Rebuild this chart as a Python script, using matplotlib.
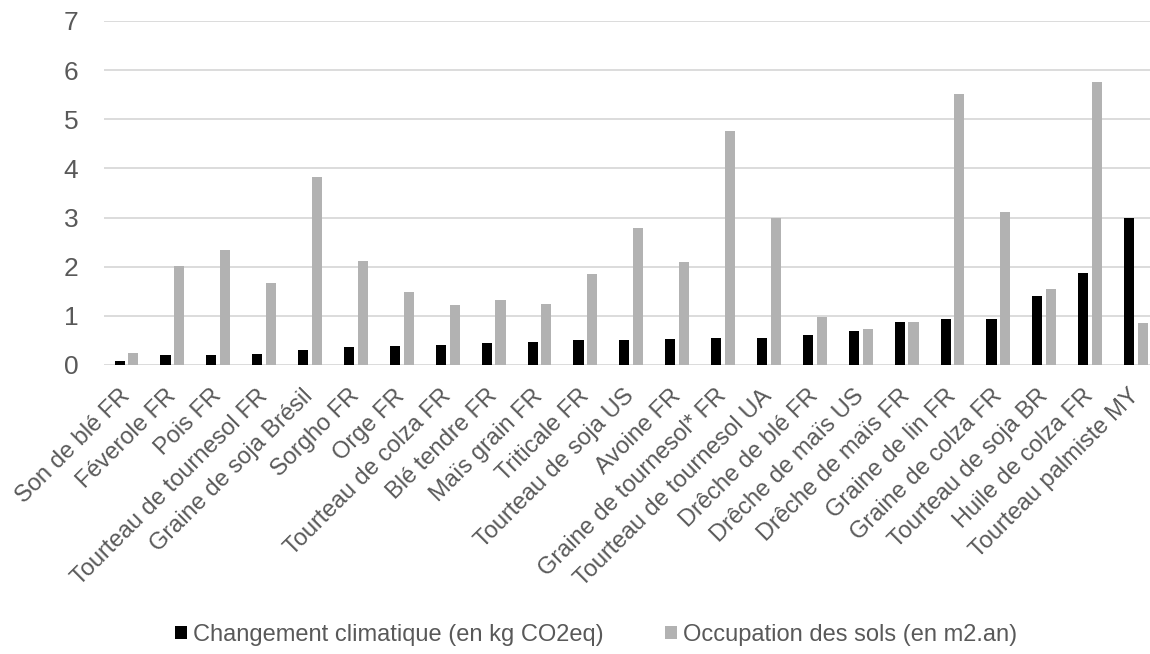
import numpy as np
import matplotlib
matplotlib.use("Agg")
import matplotlib.pyplot as plt

categories = [
    "Son de blé FR", "Féverole FR", "Pois FR", "Tourteau de tournesol FR",
    "Graine de soja Brésil", "Sorgho FR", "Orge FR", "Tourteau de colza FR",
    "Blé tendre FR", "Maïs grain FR", "Triticale FR", "Tourteau de soja US",
    "Avoine FR", "Graine de tournesol* FR", "Tourteau de tournesol UA",
    "Drêche de blé FR", "Drêche de maïs US", "Drêche de maïs FR",
    "Graine de lin FR", "Graine de colza FR", "Tourteau de soja BR",
    "Huile de colza FR", "Tourteau palmiste MY",
]
climat = [0.08, 0.20, 0.20, 0.22, 0.30, 0.37, 0.39, 0.41, 0.44, 0.46, 0.50, 0.50,
          0.52, 0.55, 0.55, 0.62, 0.69, 0.88, 0.93, 0.93, 1.40, 1.87, 2.99]
sols = [0.24, 2.01, 2.33, 1.67, 3.82, 2.12, 1.48, 1.22, 1.33, 1.24, 1.86, 2.79,
        2.09, 4.76, 3.00, 0.97, 0.74, 0.88, 5.52, 3.12, 1.54, 5.75, 0.86]
yticks = [0, 1, 2, 3, 4, 5, 6, 7]
series_names = ["Changement climatique (en kg CO2eq)", "Occupation des sols (en m2.an)"]

plt.rcParams["font.family"] = ["Liberation Sans", "DejaVu Sans"]
text_col = "#595959"
fs = 17

fig = plt.figure(figsize=(11.5, 6.54), dpi=100)
ax = fig.add_axes([103.5 / 1150, 1 - 365 / 654, 1055.5 / 1150, 344 / 654])

x = np.arange(len(categories))
w = 0.22
ax.bar(x - 0.15, climat, w, color="black", label=series_names[0], zorder=3)
ax.bar(x + 0.15, sols, w, color="#b2b2b2", label=series_names[1], zorder=3)

ax.set_xlim(-0.5, len(categories) - 0.5)
ax.set_ylim(0, 7)
ax.set_yticks(yticks)
ax.yaxis.grid(True, color="#d9d9d9", linewidth=1.3, zorder=0)
for s in ax.spines.values():
    s.set_visible(False)

ax.tick_params(axis="y", length=0, pad=18, labelsize=19, labelcolor=text_col)
ax.tick_params(axis="x", length=0, pad=20, labelsize=fs, labelcolor=text_col)
ax.set_xticks(x)
ax.set_xticklabels(categories, rotation=45, ha="right", va="center",
                   rotation_mode="anchor")

fig.legend(loc="center", bbox_to_anchor=(596 / 1150, 1 - 635 / 654), ncol=2,
           frameon=False, fontsize=fs, labelcolor=text_col,
           handlelength=0.5, handleheight=0.5, handletextpad=0.25,
           columnspacing=2.6)

fig.savefig("out.png", dpi=100)
